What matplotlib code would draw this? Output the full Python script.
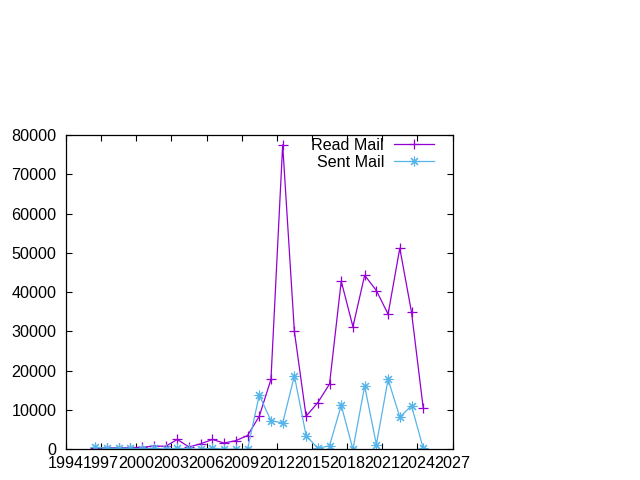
import numpy as np
import matplotlib
matplotlib.use("Agg")
import matplotlib.pyplot as plt

# yearly mail counts (points sit mid-year)
years = np.arange(1996, 2025)
read_mail = [400, 400, 400, 450, 500, 850, 750, 2500, 600, 1400, 2500, 1600, 2200, 3500,
             8400, 17800, 77500, 30000, 8400, 11900, 16600, 42800, 31200, 44300, 40400,
             34400, 51200, 34900, 10500]
sent_mail = [500, 300, 300, 300, 100, 300, 0, 300, 0, 0, 300, 0, 0, 0,
             13800, 7300, 6700, 18700, 3500, 250, 900, 11200, 0, 16100, 1200,
             17800, 8200, 11100, 250]

x = years + 0.5

plt.rcParams['font.family'] = ['Liberation Sans', 'DejaVu Sans']

fig = plt.figure(figsize=(6.4, 4.8), dpi=100)
ax = fig.add_axes([66 / 640, (480 - 449.3) / 480, (452.5 - 66) / 640, (449.3 - 135) / 480])

ax.plot(x, read_mail, color='#9400D3', lw=0.9, marker='+', ms=7, mew=0.9, label='Read Mail')
ax.plot(x, sent_mail, color='#56B4E9', lw=0.9, marker=(8, 2, 0), ms=7, mew=0.8, label='Sent Mail')

ax.set_xlim(1994, 2027)
ax.set_ylim(0, 80000)
ax.set_xticks(np.arange(1994, 2028, 3))
ax.set_yticks(np.arange(0, 80001, 10000))
ax.tick_params(direction='in', length=4, width=0.8, top=True, right=True,
               labelsize=11.6, colors='black')
ax.tick_params(axis='y', pad=7)
ax.tick_params(axis='x', pad=5)
for s in ax.spines.values():
    s.set_linewidth(0.9)

ax.legend(loc='upper right', bbox_to_anchor=(434 / 640, (480 - 138) / 480),
          bbox_transform=fig.transFigure, frameon=False, markerfirst=False,
          fontsize=11.6, handlelength=2.5, handletextpad=0.6, labelspacing=0.12,
          borderpad=0, borderaxespad=0)

fig.savefig('out.png', dpi=100)
